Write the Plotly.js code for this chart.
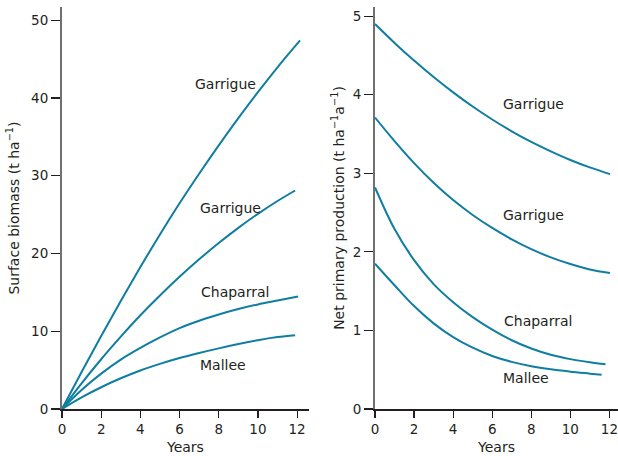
<!DOCTYPE html>
<html>
<head>
<meta charset="utf-8">
<script src="https://cdn.plot.ly/plotly-3.0.1.min.js"></script>
<style>html,body{margin:0;padding:0;background:#fff;}#chart{width:618px;height:456px;}</style>
</head>
<body>
<div id="chart"></div>
<script>
// ---- Data ----
// Left panel: surface biomass (t ha^-1) vs years
const biomassGarrigueHighYears = [0,1,2,3,4,5,6,7,8,9,10,11,12.15];
const biomassGarrigueHigh      = [0,4.75,9.4,13.9,18.25,22.45,26.45,30.25,33.9,37.4,40.75,43.95,47.4];
const biomassGarrigueLowYears  = [0,1,2,3,4,5,6,7,8,9,10,11,11.9];
const biomassGarrigueLow       = [0,3.3,6.4,9.3,12.05,14.6,17.0,19.25,21.35,23.3,25.1,26.75,28.1];
const biomassChaparralYears    = [0,1,2,3,4,5,6,7,8,9,10,11,12.05];
const biomassChaparral         = [0,2.45,4.55,6.35,7.85,9.2,10.4,11.35,12.15,12.85,13.45,13.95,14.47];
const biomassMalleeYears       = [0,1,2,3,4,5,6,7,8,9,10,11,11.9];
const biomassMallee            = [0,1.5,2.8,3.95,4.95,5.8,6.55,7.2,7.8,8.35,8.85,9.25,9.5];

// Right panel: net primary production (t ha^-1 a^-1) vs years
const nppGarrigueHighYears = [0,1,2,3,4,5,6,7,8,9,10,11,12.03];
const nppGarrigueHigh      = [4.90,4.66,4.435,4.225,4.03,3.85,3.685,3.535,3.40,3.28,3.17,3.075,2.99];
const nppGarrigueLowYears  = [0,1,2,3,4,5,6,7,8,9,10,11,12.03];
const nppGarrigueLow       = [3.71,3.41,3.13,2.88,2.66,2.47,2.305,2.16,2.035,1.93,1.845,1.775,1.73];
const nppChaparralYears    = [0,1,2,3,4,5,6,7,8,9,10,11,11.8];
const nppChaparral         = [2.82,2.29,1.895,1.59,1.36,1.17,1.01,0.875,0.77,0.69,0.635,0.595,0.57];
const nppMalleeYears       = [0,1,2,3,4,5,6,7,8,9,10,11,11.6];
const nppMallee            = [1.85,1.575,1.31,1.09,0.915,0.78,0.675,0.60,0.545,0.505,0.475,0.45,0.435];

const xTicks = [0,2,4,6,8,10,12];
const leftYTicks = [0,10,20,30,40,50];
const rightYTicks = [0,1,2,3,4,5];

const labelGarrigue = 'Garrigue';
const labelChaparral = 'Chaparral';
const labelMallee = 'Mallee';

// ---- Styling ----
const lineColor = '#0f7ea1';
const textColor = '#231f20';
const font = 'DejaVu Sans, Liberation Sans, Arial, sans-serif';

function line(x, y, xa, ya) {
  return {x: x, y: y, xaxis: xa, yaxis: ya, type: 'scatter', mode: 'lines',
          line: {color: lineColor, width: 2, shape: 'spline', smoothing: 1},
          hoverinfo: 'skip', showlegend: false};
}

const traces = [
  line(biomassGarrigueHighYears, biomassGarrigueHigh, 'x', 'y'),
  line(biomassGarrigueLowYears, biomassGarrigueLow, 'x', 'y'),
  line(biomassChaparralYears, biomassChaparral, 'x', 'y'),
  line(biomassMalleeYears, biomassMallee, 'x', 'y'),
  line(nppGarrigueHighYears, nppGarrigueHigh, 'x2', 'y2'),
  line(nppGarrigueLowYears, nppGarrigueLow, 'x2', 'y2'),
  line(nppChaparralYears, nppChaparral, 'x2', 'y2'),
  line(nppMalleeYears, nppMallee, 'x2', 'y2')
];

function xAxis(domain, range, anchor) {
  return {domain: domain, range: range, anchor: anchor, tickvals: xTicks,
          ticks: 'outside', ticklen: 7, tickwidth: 1.2, tickcolor: textColor,
          showline: true, linecolor: textColor, linewidth: 1.5,
          showgrid: false, zeroline: false, fixedrange: true,
          ticklabeloverflow: 'allow',
          tickfont: {family: font, size: 13.5, color: textColor},
          title: {text: 'Years', font: {family: font, size: 14, color: textColor}, standoff: 6}};
}
function yAxis(range, tickvals, anchor, title, standoff) {
  return {range: range, anchor: anchor, tickvals: tickvals,
          ticks: 'outside', ticklen: 9, tickwidth: 1.2, tickcolor: textColor,
          showline: true, linecolor: '#707070', linewidth: 2,
          showgrid: false, zeroline: false, fixedrange: true,
          ticklabeloverflow: 'allow',
          tickfont: {family: font, size: 13.5, color: textColor},
          title: {text: title, font: {family: font, size: 14, color: textColor}, standoff: standoff}};
}

function ann(text, x, y, xref, yref) {
  return {text: text, x: x, y: y, xref: xref, yref: yref, showarrow: false,
          xanchor: 'center', yanchor: 'middle',
          font: {family: font, size: 14, color: textColor}};
}

const layout = {
  width: 618, height: 456,
  margin: {l: 62, r: 0, t: 7, b: 47},
  paper_bgcolor: '#ffffff', plot_bgcolor: '#ffffff',
  showlegend: false,
  xaxis: xAxis([0, 0.444], [0, 12.6], 'y'),
  yaxis: yAxis([0, 51.7], leftYTicks, 'x', 'Surface biomass (t ha<sup>\u22121</sup>)', 8),
  xaxis2: xAxis([0.563, 1], [0, 12.44], 'y2'),
  yaxis2: yAxis([0, 5.117], rightYTicks, 'x2', 'Net primary production (t ha<sup>\u22121</sup>a<sup>\u22121</sup>)', 5),
  annotations: [
    ann(labelGarrigue, 8.37, 41.8, 'x', 'y'),
    ann(labelGarrigue, 8.62, 25.9, 'x', 'y'),
    ann(labelChaparral, 8.83, 15.06, 'x', 'y'),
    ann(labelMallee, 8.24, 5.63, 'x', 'y'),
    ann(labelGarrigue, 8.11, 3.88, 'x2', 'y2'),
    ann(labelGarrigue, 8.11, 2.47, 'x2', 'y2'),
    ann(labelChaparral, 8.32, 1.12, 'x2', 'y2'),
    ann(labelMallee, 7.75, 0.40, 'x2', 'y2')
  ]
};

Plotly.newPlot('chart', traces, layout, {staticPlot: true, displayModeBar: false});
</script>
</body>
</html>
